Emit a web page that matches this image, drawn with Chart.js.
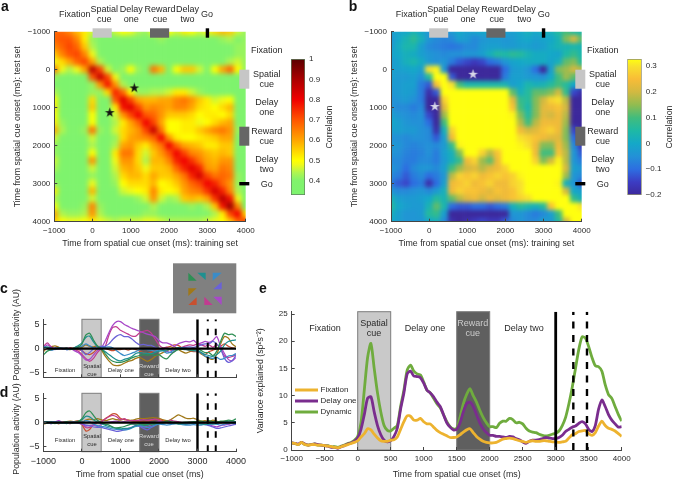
<!DOCTYPE html>
<html>
<head>
<meta charset="utf-8">
<style>
  html, body { margin: 0; padding: 0; background: #fff; width: 673px; height: 479px; overflow: hidden; }
  canvas { position: absolute; left: 0; top: 0; }
</style>
<script src="https://cdn.jsdelivr.net/npm/chart.js@4/dist/chart.umd.min.js"></script>
</head>
<body>
<canvas id="heatA" width="673" height="479"></canvas>
<canvas id="barA" width="673" height="479"></canvas>
<canvas id="heatB" width="673" height="479"></canvas>
<canvas id="barB" width="673" height="479"></canvas>
<canvas id="lineC" width="673" height="479"></canvas>
<canvas id="lineD" width="673" height="479"></canvas>
<canvas id="lineE" width="673" height="479"></canvas>
<script>
// ================= DATA =================
const heatTimes = [-1000,-800,-600,-400,-200,0,200,400,600,800,1000,1200,1400,1600,1800,2000,2200,2400,2600,2800,3000,3200,3400,3600,3800,4000];
const axisTicks = [-1000,0,1000,2000,3000,4000];
const activityTicks = [-5,0,5];
const varianceTicks = [0,5,10,15,20,25];
const varianceTimeTicks = [-1000,-500,0,500,1000,1500,2000,2500,3000,3500,4000];
const corrTicksA = [0.4,0.5,0.6,0.7,0.8,0.9,1];
const corrTicksB = [-0.2,-0.1,0,0.1,0.2,0.3];

// correlation x100, rows = test set time, columns = training set time
const heatRowsA = [
  [68,68,64,58,52,46,42,40,46,50,48,44,42,50,56,50,46,52,50,46,48,54,58,56,46,42],
  [68,70,70,64,52,42,38,37,38,39,40,38,38,40,42,40,38,38,38,38,38,38,42,44,40,42],
  [64,68,72,68,56,44,38,36,36,36,36,36,36,36,36,36,36,36,36,36,36,36,36,38,42,42],
  [56,64,70,72,64,48,40,36,36,36,36,36,36,36,36,36,36,36,36,36,36,36,36,38,42,42],
  [48,54,60,68,72,60,44,38,36,36,38,38,38,38,40,38,38,38,38,38,38,38,40,44,46,42],
  [66,48,44,48,60,88,72,46,40,42,50,42,40,66,58,40,50,56,56,46,40,50,60,68,50,42],
  [42,38,36,36,40,70,86,72,48,38,38,36,36,38,38,36,36,38,38,36,36,36,38,40,38,36],
  [38,36,36,36,36,42,62,78,62,44,36,36,36,36,36,36,36,36,36,36,36,36,36,36,36,36],
  [44,38,36,36,38,42,42,54,76,68,50,42,42,44,44,46,52,52,46,42,40,38,40,40,36,36],
  [50,40,36,36,38,54,40,40,70,82,72,60,58,58,60,60,64,66,62,56,52,46,48,50,38,36],
  [52,40,36,36,38,56,40,38,52,78,82,72,62,64,62,60,64,64,60,54,52,50,54,58,40,36],
  [50,40,38,38,38,50,38,38,46,62,72,80,70,68,62,56,56,56,54,50,52,52,50,54,40,36],
  [52,42,38,38,40,50,38,38,44,52,60,68,80,72,60,50,50,52,52,48,50,54,58,60,40,36],
  [60,44,40,40,42,66,42,38,46,54,58,62,72,86,66,50,50,52,52,56,60,64,66,62,42,36],
  [46,40,38,38,40,46,40,38,42,54,60,62,64,68,80,62,52,50,50,52,54,56,60,60,40,36],
  [42,38,36,36,38,44,38,38,44,60,62,56,52,60,66,80,68,60,58,56,52,52,56,56,38,36],
  [42,38,36,36,38,50,38,36,52,66,66,54,46,56,62,70,80,72,64,62,58,56,58,56,38,36],
  [46,38,36,36,38,62,40,36,48,62,62,54,44,58,58,64,76,80,74,66,60,58,62,62,40,36],
  [44,38,36,36,38,46,38,36,46,58,60,56,48,56,56,58,68,76,82,76,62,60,66,64,40,36],
  [40,36,36,36,36,42,38,36,44,54,58,58,54,60,56,56,60,66,76,84,72,66,68,66,42,36],
  [42,36,36,36,38,48,38,36,42,50,54,54,54,58,50,52,56,62,68,72,80,76,68,62,42,36],
  [52,38,36,36,40,58,40,36,38,46,48,50,52,64,52,50,52,60,64,66,74,84,76,64,44,36],
  [44,38,36,36,40,46,38,36,36,38,40,42,46,62,46,42,44,56,58,56,60,74,88,78,48,38],
  [50,40,38,38,42,64,42,38,36,36,36,38,40,44,38,36,38,40,42,40,44,56,78,92,64,40],
  [60,44,42,42,44,62,44,40,38,38,38,40,42,42,40,38,38,38,38,38,40,44,52,72,80,54],
  [56,50,48,48,50,52,48,46,44,46,46,46,48,48,46,44,44,44,44,44,46,48,50,56,68,72]
];

const heatRowsB = [
  [-2,-1,0,3,0,-4,-4,-6,-3,0,-2,-1,0,-1,0,-2,-2,0,2,0,2,2,6,10,6,4],
  [-4,0,3,7,2,-4,-6,-7,-6,-2,-3,-6,-4,-3,-3,-4,-3,-1,0,-2,-1,0,3,14,20,12],
  [-3,1,4,4,-2,-6,-7,-8,-9,-8,-6,-6,-3,-2,-2,-3,-3,-2,-2,-3,-2,1,3,3,4,3],
  [-1,0,2,1,-2,-4,-5,-6,-5,-5,-4,-4,-2,2,6,5,7,6,3,1,1,0,-1,5,8,4],
  [-3,-1,2,4,1,-3,-5,-4,-8,-12,-14,-16,-14,-10,-8,-4,-1,0,1,1,1,-1,2,12,14,6],
  [-2,-2,-1,0,-2,30,32,-4,-24,-26,-26,-26,-26,-26,-24,-10,-3,-2,-4,-10,-20,-2,14,16,20,18],
  [-2,-3,-3,-2,-5,6,40,40,-12,-24,-24,-24,-24,-24,-20,-8,-2,-2,-3,-4,-5,0,10,16,12,4],
  [-3,-3,-2,-2,-8,-12,26,40,30,10,4,4,4,4,4,3,-2,0,4,2,3,6,10,6,0,-4],
  [-4,-3,-2,-3,-8,-18,-12,36,40,40,40,38,36,36,38,34,12,2,6,12,12,14,20,8,-14,-18],
  [-5,-4,-3,-5,-8,-24,-26,28,40,40,40,40,40,40,40,40,22,8,6,14,20,28,30,18,-22,-24],
  [-4,-6,-6,-8,-6,-22,-26,22,40,40,40,40,40,40,40,40,26,10,4,14,22,24,26,20,-24,-26],
  [-2,-4,-5,-6,-5,-14,-24,16,40,40,40,40,40,40,40,40,32,14,6,14,22,20,24,18,-24,-26],
  [0,-2,-4,-5,-5,-10,-22,10,38,40,40,40,40,40,40,40,34,18,10,18,24,24,24,16,-20,-24],
  [-2,-2,-3,-3,-5,-6,-18,2,28,40,40,40,40,40,40,40,36,24,20,22,26,28,24,14,-14,-22],
  [-5,-5,-6,-5,-5,-6,-12,-2,24,40,40,40,40,40,40,40,36,30,28,26,24,22,22,14,-10,-18],
  [-3,-4,-6,-7,-6,-5,-6,-3,8,32,40,40,40,40,40,40,36,32,30,24,14,14,24,16,-6,-16],
  [-4,-5,-7,-8,-7,-5,-8,-2,2,14,34,36,28,18,26,36,40,40,34,24,10,10,26,18,-4,-12],
  [-6,-6,-8,-8,-6,-6,-8,-3,2,8,24,28,16,12,24,38,40,40,40,28,14,20,32,18,-4,-8],
  [-4,-6,-10,-6,-4,-4,-6,-2,10,16,20,22,18,22,24,28,36,40,40,40,40,40,38,20,-2,-4],
  [-6,-8,-12,-8,-6,-10,-8,-4,18,28,26,28,24,26,28,26,28,32,36,40,40,40,34,16,-4,-6],
  [-8,-12,-14,-10,-8,-18,-10,-2,24,26,28,24,26,28,24,24,28,30,36,40,40,40,32,2,-4,-12],
  [-4,-6,-6,-5,-4,-6,-3,2,24,28,26,26,24,22,26,24,26,30,34,40,40,40,40,20,0,-2],
  [3,-2,-3,-3,-2,0,6,3,12,18,22,24,20,24,22,24,26,28,30,36,40,40,40,36,8,2],
  [6,0,-2,-3,-3,3,12,4,-10,-12,-12,-10,-10,-12,-10,-8,2,6,4,2,6,26,40,40,38,30],
  [2,-2,-4,-4,-3,6,8,-2,-26,-28,-28,-26,-22,-28,-28,-20,-4,-4,-6,-8,-6,-2,10,36,40,40],
  [0,-2,-4,-4,-4,0,2,-6,-18,-20,-18,-16,-14,-16,-16,-12,-6,-4,-6,-6,-2,-4,6,20,40,40]
];

const starsA = [{ x: 1090, y: 480 }, { x: 450, y: 1130 }];
const starsB = [{ x: 1150, y: 120 }, { x: 150, y: 970 }];

// panel c and d sampled every 100 ms, panel e every 50 ms
const timesCD = [
  -1000,-900,-800,-700,-600,-500,-400,-300,-200,-100,
  0,100,200,300,400,500,600,700,800,900,
  1000,1100,1200,1300,1400,1500,1600,1700,1800,1900,
  2000,2100,2200,2300,2400,2500,2600,2700,2800,2900,
  3000,3100,3200,3300,3400,3500,3600,3700,3800,3900,4000
];
const c_green = [
  -1.3,-0.5,-0.2,0,0.1,0,0.1,0,-0.1,0.3,
  1,2.8,3.2,1.8,0.6,0,-1,-2,-2.6,-2.8,
  -2.8,-2.6,-2.3,-1.9,-1.6,-1.4,-1.2,-1.3,-1.2,-1.4,
  -1.2,-1.8,-2.1,-1.3,-0.6,-0.2,-0.1,0,-0.2,-0.2,
  0,-0.4,-0.8,-0.8,-1.4,-0.5,1.5,3.2,2.9,3,2.5];
const c_teal = [
  0.2,0.4,0.1,-0.1,0.2,0,0.1,-0.1,0.2,0.6,
  1.2,2.3,2.6,1.4,0.4,-0.1,-0.6,-1.2,-1.8,-2.3,
  -2.5,-2.2,-2,-1.6,-1,-0.8,-0.9,-1,-1,-0.8,
  -0.5,-0.4,-0.3,-0.1,0,0.2,-0.1,-0.2,-0.3,-0.4,
  -0.3,-0.8,-1.2,-1.4,-1.6,-1.2,-0.5,0.8,1.5,1.7,1.8];
const c_blue = [
  0.4,0.2,-0.3,-0.1,0,0.1,-0.2,0,-0.1,0.3,
  0.5,1,0.6,0.2,0,0.2,0.3,0.4,0.2,-0.4,
  -1,-1.4,-1.2,-0.9,-0.6,-0.2,0,-0.2,-0.3,-0.5,
  -0.3,-0.4,-0.9,-0.7,-0.2,0.1,0.2,0,-0.2,-0.4,
  -0.5,-0.9,-1.5,-1.8,-2,-1.8,-2.2,-2,-1.5,-1.4,-1];
const c_indigo = [
  0.6,0.1,-0.3,0.2,0,0.1,-0.2,-0.1,0,0.1,
  -0.4,-1.2,-0.8,0,0.4,0.5,0.5,1,1.9,2.6,
  2.9,2.5,2.5,2,1.3,0.8,0.9,0.7,0.7,0.3,
  0,-0.2,-0.5,-0.8,-0.6,0,0.2,0.3,0.4,0.3,
  0.5,0.8,1,1,1.5,1,0,-2,-2.8,-2.5,-1.3];
const c_violet = [
  0,0.8,0.3,-0.2,0.2,-0.1,0,0.1,-0.4,-0.8,
  -1.5,-2.3,-2.2,-1.3,-0.4,0.1,1.5,3.3,4.8,5.6,
  5.6,5,4.6,4.2,3.9,3.6,3.3,3,2.8,2.5,
  1.7,1.2,1.2,0.9,0.5,1,1.3,1.5,1.4,1.7,
  1,1.2,1.5,1.3,1.7,2.5,0.5,-1,-2.2,-2.5,-1.8];
const c_magenta = [
  0.4,1.2,0.4,0,-0.1,0,0.2,-0.1,-0.2,-0.5,
  -1.2,-2,-2.6,-2,-0.8,0,0.4,2.8,4.4,4.5,
  3.8,3.4,3,2.6,2.6,3.3,3.6,3.8,3.2,2,
  0.8,0.2,0.3,-0.3,-0.3,0,0.3,0.6,0.8,0.7,
  1,0.8,0.5,0.8,0.3,0.8,0,-1.5,-1.8,-1.6,-1.2];
const c_red = [
  -0.3,0.1,-0.2,0,0.2,0.1,-0.1,0.2,0,-0.2,
  -0.4,-1,-1.2,-0.8,0,0.4,0.1,-0.2,-0.4,-0.2,
  -0.2,0,-0.3,0,-0.2,-0.5,-0.8,-1,-0.7,-0.4,
  -0.1,0,0.3,0.5,0.8,0.7,0.2,-0.1,-0.4,-0.6,
  -0.6,-0.9,-1.2,-0.6,-0.3,0,0.5,1,0.5,0.2,0];
const c_olive = [
  -0.6,0.2,0.4,0.6,0.3,0.1,0,-0.2,0.2,0.4,
  0.3,0.8,0.5,0.4,0.6,-0.2,-1.5,-2.5,-3.3,-3.5,
  -3.4,-3,-2.6,-2.4,-2,-1.8,-2.2,-2.6,-2.2,-1.6,
  -1.2,-0.8,-0.5,0,0.4,-0.1,-0.6,-0.9,-0.6,-0.4,
  -0.4,-1.1,-1.6,-2,-2.2,-1.2,1,2.5,2.2,1,0.4];

const d_green = [
  0,-0.1,0.1,-0.2,0.1,0,0.2,-0.1,0,0.2,
  0.8,2,2.4,1.5,0.5,0,-0.3,-0.5,-0.9,-1.1,
  -1,-0.8,-0.5,-0.3,-0.3,-0.2,-0.4,-0.5,-0.3,-0.2,
  0,0.1,0.3,0.2,0.1,-0.1,0,0.1,0.1,0.2,
  0.2,0.3,0.1,0.4,0.2,0.1,0.3,0.3,0.5,0.4,0.8];
const d_teal = [
  0.1,0.2,-0.1,0,0.1,0,-0.2,0.1,0.1,0.2,
  0.6,1.3,1.2,0.6,0.1,-0.2,-0.5,-0.8,-1,-1.2,
  -1.3,-1.2,-1.2,-1,-0.6,-0.4,-0.5,-0.4,-0.3,-0.2,
  -0.2,-0.1,0,-0.1,-0.2,-0.3,-0.2,-0.3,-0.2,-0.1,
  -0.2,-0.3,-0.4,-0.2,-0.3,-0.2,0,0.2,0.3,0.3,0.2];
const d_blue = [
  -0.1,0,0.2,0.1,-0.1,0,0.1,0,-0.1,0.1,
  0.1,0.4,0.2,-0.3,-0.6,-0.8,-0.9,-1.1,-1.3,-1.4,
  -1.4,-1.5,-1.4,-1.1,-0.8,-0.6,-0.8,-1,-0.8,-0.5,
  -0.3,-0.4,-0.5,-0.4,-0.2,-0.2,-0.4,-0.5,-0.5,-0.4,
  -0.5,-0.5,-0.3,-0.4,-0.2,-0.3,-0.5,-0.3,-0.2,-0.1,-0.2];
const d_indigo = [
  0.1,-0.1,-0.2,0.2,0.1,-0.1,0,0.1,0,-0.1,
  -0.2,-0.5,-0.6,-0.9,-1,-1,-1.2,-1.4,-1.6,-1.8,
  -1.7,-1.5,-1.2,-0.9,-0.6,-0.8,-1.2,-1.5,-1,-0.6,
  -0.2,-0.1,0,-0.2,-0.2,-0.1,-0.1,-0.3,-0.2,-0.2,
  -0.1,-0.2,-0.4,-0.6,-0.9,-1.2,-1.1,-0.9,-0.7,-0.5,-0.3];
const d_violet = [
  0.2,0,-0.2,0.1,0.4,0,-0.1,0,0.1,-0.1,
  -0.3,-0.7,-0.6,-0.5,-0.8,-0.4,0,0.1,0.2,0.3,
  0.1,0.2,0.1,-0.2,-0.4,-0.7,-0.9,-0.7,-0.4,0,
  0.2,0.1,0,-0.1,0,0,-0.2,-0.3,-0.2,-0.1,
  -0.1,0,0,-0.4,-0.7,-0.9,-0.6,-0.5,-0.3,-0.2,-0.1];
const d_magenta = [
  -0.2,0.1,0.2,-0.1,0,0.1,0.1,-0.2,0.1,0.3,
  -0.1,-1,-1,-0.5,0.1,0.2,0.7,1.2,1.5,1.2,
  0.6,0.8,0.4,0.4,0.4,0.5,0.6,0.5,0.6,0.7,
  0.5,0.2,0.2,0.5,0.3,0.2,0,0,0.1,0,
  -0.1,0,0.1,0,-0.2,0,-0.1,0,-0.3,-0.1,-0.3];
const d_red = [
  0.2,0.1,-0.1,0,-0.2,0.1,0,0.2,0.2,0,
  -0.4,-1.7,-1.4,-0.4,0,0.2,0.8,1.3,1.8,1.7,
  0.9,0.6,0.5,0.3,0.2,0.2,0.3,0.3,0.5,0.6,
  0.6,0.4,0.1,0,-0.1,-0.2,-0.3,-0.1,0.1,0,
  0,-0.2,-0.1,0.1,0,-0.1,0.2,0,-0.2,-0.1,-0.4];
const d_olive = [
  -0.3,-0.1,0.1,0.2,-0.2,0,0.2,0.3,0.2,0.4,
  0.1,0.5,0.7,0.6,0.8,0.6,0.4,0.6,0.8,0.6,
  0.5,0.7,0.5,0.5,0.7,0.9,0.8,0.9,1,1,
  0.9,0.6,0.4,0.6,1.1,1.6,1.3,0.9,0.8,0.9,
  0.6,0.3,0.4,0.2,0.5,0.3,0.1,0.3,0.1,-0.1,0];

const timesE = [
  -1000,-950,-900,-850,-800,-750,-700,-650,-600,-550,-500,-450,-400,-350,-300,-250,-200,-150,-100,-50,
  0,50,100,150,200,250,300,350,400,450,500,550,600,650,700,750,800,850,900,950,
  1000,1050,1100,1150,1200,1250,1300,1350,1400,1450,1500,1550,1600,1650,1700,1750,1800,1850,1900,1950,
  2000,2050,2100,2150,2200,2250,2300,2350,2400,2450,2500,2550,2600,2650,2700,2750,2800,2850,2900,2950,
  3000,3050,3100,3150,3200,3250,3300,3350,3400,3450,3500,3550,3600,3650,3700,3750,3800,3850,3900,3950,4000
];
const fixationVar = [
  1.3,1.2,1,1.4,1,0.9,1,1,0.9,0.9,0.8,0.7,0.6,0.5,0.4,0.6,0.8,1,1.2,1.4,
  1.7,2.4,3,3.9,3.7,2.9,2.2,1.7,1.6,1.6,1.8,1.9,2.4,3.8,5.2,6.3,6.2,5.5,5.5,5.8,
  5.2,4.8,4.8,4.2,3.6,3.2,2.9,2.6,2.3,2.3,2.4,2.8,3.3,3.7,3.9,3.2,2.5,2,1.6,1.4,
  1.3,1.3,1.4,1.7,2,2.1,2.2,2.1,1.9,1.7,1.6,1.4,1.6,1.7,1.6,1.6,1.7,1.7,1.6,1.5,
  1.5,1.4,1.5,1.6,2.2,2.8,3,3.4,3.5,3.6,3,2.7,3.2,4.4,5.3,4.5,4,3.8,3.5,3,2.5
];
const delayOneVar = [
  1.3,1.2,1.1,1.4,1.1,0.9,1,1.1,1,0.9,0.8,0.7,0.5,0.5,0.3,0.6,0.8,1.1,1.3,1.6,
  2.2,3.8,6.5,9.5,9.8,7,4.5,2.8,1.8,1.5,1.7,2.5,4,7.5,10.5,14,14.5,13.6,13.5,13.3,
  12.3,11,10.5,9.8,8.8,8,6.5,5,4.2,3.7,3.8,5,7,8.5,8.8,8,6.5,5,3.9,3.2,
  2.7,2.7,2.5,2.5,2.4,2.3,2.5,2.4,2.1,1.9,1.5,1.2,1.6,1.8,1.8,1.9,2.1,2.3,2.2,2.1,
  2.1,2.3,2.7,3.4,3.8,4.2,4.4,4.9,5.2,4.8,3.8,3.4,4.5,7.5,9.2,8,6.5,5.5,4.8,4.2,4.3
];
const dynamicVar = [
  1.3,1.2,1,1.4,1,0.9,1,1.1,0.9,0.9,0.8,0.8,0.6,0.6,0.5,0.7,0.9,1.2,1.4,1.8,
  2.5,5,11,17,19.6,15,10.5,7,4.5,3.6,3.5,4,4.5,8,11,14.7,15.6,14.5,14,13.8,
  12.5,11,10.5,9.5,8.5,7.8,6.5,5.2,4.3,3.9,4,6,8.5,10.2,11.3,10,8.8,7.3,6,5,
  4.3,4.3,4.1,4.9,5.3,5.3,5.8,5.6,5,5.1,4.8,4,3.5,3.3,3.2,2.9,2.7,2.6,2.7,2.9,
  3.1,3.5,4.5,6,8.5,11.5,15,18.5,20.8,20.6,19,17,15.5,15.3,14.5,12,10.2,9.5,8,6.5,5.3
];

const spatialCue = [0, 500];
const rewardCue = [1500, 2000];
const goTime = 3000;
const dashTimes = [3267, 3474];

const seriesColors = ["#2f8f55", "#1f9090", "#3a8cc8", "#6a62d8", "#a848c8", "#c03c90", "#c85030", "#a07818"];

// ================= COLOURS =================
const stopsA = [[0.33,[125,243,110]],[0.4,[128,243,108]],[0.44,[175,245,80]],[0.48,[240,250,25]],[0.5,[255,255,0]],[0.6,[255,165,0]],[0.7,[255,85,0]],[0.8,[240,0,0]],[0.9,[170,0,0]],[1,[90,0,0]]];
const stopsB = [[-0.2,[60,40,155]],[-0.15,[60,60,195]],[-0.1,[45,110,225]],[-0.05,[35,145,215]],[0,[20,168,200]],[0.05,[30,185,165]],[0.1,[65,188,125]],[0.15,[145,188,80]],[0.2,[210,185,65]],[0.25,[248,188,55]],[0.3,[248,225,45]],[0.33,[255,255,15]]];

function mapColor(stops, v) {
  if (v <= stops[0][0]) return `rgb(${stops[0][1]})`;
  for (let i = 1; i < stops.length; i++) {
    if (v <= stops[i][0]) {
      const t = (v - stops[i - 1][0]) / (stops[i][0] - stops[i - 1][0]);
      const c = stops[i][1].map((n, k) => Math.round(stops[i - 1][1][k] + (n - stops[i - 1][1][k]) * t));
      return `rgb(${c})`;
    }
  }
  return `rgb(${stops[stops.length - 1][1]})`;
}

// ================= HELPERS =================
const W = 673, H = 479;
const titleFont = { size: 8.8 };
const tickFont = { size: 8 };
Chart.defaults.font.family = '"Liberation Sans", Arial, sans-serif';
Chart.defaults.font.size = 9;
Chart.defaults.color = "#2a2a2a";

function label(ctx, str, x, y, opts = {}) {
  ctx.save();
  ctx.font = `${opts.bold ? "bold " : ""}${opts.size || 9}px "Liberation Sans", Arial, sans-serif`;
  ctx.fillStyle = opts.color || "#2a2a2a";
  ctx.textAlign = opts.align || "center";
  ctx.textBaseline = "middle";
  ctx.translate(x, y);
  if (opts.rotate) ctx.rotate(opts.rotate);
  ctx.fillText(str, 0, 0);
  ctx.restore();
}

function minus(v) {
  return String(v).replace("-", "\u2212");
}

function setTicks(list) {
  return s => { s.ticks = list.map(value => ({ value })); };
}

function padFor(p) {
  return { left: p.x0 - p.axisW, right: W - p.x1, top: p.y0, bottom: H - p.y1 - p.axisH };
}

function grid2points(rows) {
  const pts = [];
  rows.forEach((row, r) => row.forEach((v, c) => pts.push({ x: heatTimes[c], y: heatTimes[r], v: v / 100 })));
  return pts;
}

function starImage(color) {
  const c = document.createElement("canvas");
  c.width = 11; c.height = 11;
  const g = c.getContext("2d");
  g.fillStyle = color;
  g.beginPath();
  for (let i = 0; i < 10; i++) {
    const r = i % 2 ? 2 : 5.2, a = -Math.PI / 2 + i * Math.PI / 5;
    g.lineTo(5.5 + r * Math.cos(a), 5.5 + r * Math.sin(a));
  }
  g.closePath();
  g.fill();
  return c;
}

// z 1 on grid, border and ticks so the axes survive the blur step
const tickStyle = { drawOnChartArea: false, drawTicks: true, tickLength: -3, color: "#444", lineWidth: 1, z: 1 };
const axisLine = { color: "#444", z: 1 };

// ================= HEATMAPS a, b =================
// blur the square cells once the library has drawn them, then keep only the plot area
function blurCells(sigma) {
  return {
    id: "blurCells",
    afterDatasetDraw(chart, args) {
      if (args.index !== 0) return;
      const a = chart.chartArea, ctx = chart.ctx;
      const copy = document.createElement("canvas");
      copy.width = W; copy.height = H;
      copy.getContext("2d").drawImage(chart.canvas, 0, 0);
      ctx.save();
      ctx.clearRect(0, 0, W, H);
      ctx.beginPath();
      ctx.rect(a.left, a.top, a.right - a.left, a.bottom - a.top);
      ctx.clip();
      ctx.filter = `blur(${sigma}px)`;
      ctx.drawImage(copy, 0, 0);
      ctx.restore();
    }
  };
}

const taskMarks = {
  id: "taskMarks",
  afterDraw(chart) {
    const ctx = chart.ctx, a = chart.chartArea, x = chart.scales.x, y = chart.scales.y;
    const topY = a.top - 3.4, topH = 9.4, rx = a.right - 6.4, rw = 10;
    ctx.fillStyle = "#c6c6c6";
    ctx.fillRect(x.getPixelForValue(spatialCue[0]), topY, x.getPixelForValue(spatialCue[1]) - x.getPixelForValue(spatialCue[0]), topH);
    ctx.fillRect(rx, y.getPixelForValue(spatialCue[0]), rw, y.getPixelForValue(spatialCue[1]) - y.getPixelForValue(spatialCue[0]));
    ctx.fillStyle = "#666";
    ctx.fillRect(x.getPixelForValue(rewardCue[0]), topY, x.getPixelForValue(rewardCue[1]) - x.getPixelForValue(rewardCue[0]), topH);
    ctx.fillRect(rx, y.getPixelForValue(rewardCue[0]), rw, y.getPixelForValue(rewardCue[1]) - y.getPixelForValue(rewardCue[0]));
    ctx.fillStyle = "#000";
    ctx.fillRect(x.getPixelForValue(goTime) - 1.7, topY, 3.4, topH);
    ctx.fillRect(rx, y.getPixelForValue(goTime) - 1.7, rw, 3.4);

    const l = a.left, rtx = a.right + 21;
    label(ctx, "Fixation", l + 20.5, 15);
    label(ctx, "Spatial", l + 50, 10); label(ctx, "cue", l + 50, 20);
    label(ctx, "Delay", l + 77, 10); label(ctx, "one", l + 77, 20);
    label(ctx, "Reward", l + 105.7, 10); label(ctx, "cue", l + 105.7, 20);
    label(ctx, "Delay", l + 133.3, 10); label(ctx, "two", l + 133.3, 20);
    label(ctx, "Go", l + 152.7, 15);
    label(ctx, "Fixation", rtx, 50.7);
    label(ctx, "Spatial", rtx, 74.5); label(ctx, "cue", rtx, 84.5);
    label(ctx, "Delay", rtx, 103); label(ctx, "one", rtx, 113);
    label(ctx, "Reward", rtx, 131.5); label(ctx, "cue", rtx, 141.5);
    label(ctx, "Delay", rtx, 160); label(ctx, "two", rtx, 170);
    label(ctx, "Go", rtx, 184.5);
  }
};

function heatChart(id, plot, rows, stops, stars, starColor, letter, letterX, sigma) {
  new Chart(document.getElementById(id), {
    type: "scatter",
    data: {
      datasets: [
        {
          data: grid2points(rows),
          order: 1,
          clip: false,
          pointStyle: "rect",
          pointRadius: 5.8,
          pointBorderWidth: 0,
          pointBackgroundColor: c => mapColor(stops, c.raw ? c.raw.v : 0)
        },
        {
          data: stars,
          order: 0,
          pointStyle: starImage(starColor),
          pointRadius: 5
        }
      ]
    },
    options: {
      responsive: false,
      animation: false,
      events: [],
      layout: { padding: padFor(plot) },
      plugins: { legend: { display: false }, tooltip: { enabled: false } },
      scales: {
        x: {
          type: "linear", min: -1000, max: 4000,
          afterBuildTicks: setTicks(axisTicks),
          afterFit: s => { s.height = plot.axisH; },
          grid: tickStyle, border: axisLine,
          ticks: { callback: minus, maxRotation: 0, padding: 7, z: 1, font: tickFont },
          title: { display: true, text: "Time from spatial cue onset (ms): training set", padding: 0, font: titleFont }
        },
        y: {
          type: "linear", min: -1000, max: 4000, reverse: true,
          afterBuildTicks: setTicks(axisTicks),
          afterFit: s => { s.width = plot.axisW; },
          grid: tickStyle, border: axisLine,
          ticks: { callback: minus, padding: 7, z: 1, font: tickFont },
          title: { display: true, text: "Time from spatial cue onset (ms): test set", padding: 0, font: titleFont }
        }
      }
    },
    plugins: [blurCells(sigma), taskMarks, {
      id: "panelLetter",
      afterDraw(chart) { label(chart.ctx, letter, letterX, 7, { bold: true, size: 14, color: "#111" }); }
    }]
  });
}

function colorBar(id, plot, range, stops, ticks, frame) {
  new Chart(document.getElementById(id), {
    type: "bar",
    data: {
      labels: ["Correlation"],
      datasets: [{
        data: [range],
        barPercentage: 1,
        categoryPercentage: 1,
        borderWidth: 1,
        borderColor: frame,
        borderSkipped: false,
        backgroundColor: c => {
          const area = c.chart.chartArea;
          if (!area) return "#888";
          const g = c.chart.ctx.createLinearGradient(0, area.bottom, 0, area.top);
          stops.forEach(s => {
            const t = (s[0] - range[0]) / (range[1] - range[0]);
            g.addColorStop(Math.min(1, Math.max(0, t)), `rgb(${s[1]})`);
          });
          return g;
        }
      }]
    },
    options: {
      responsive: false,
      animation: false,
      events: [],
      layout: { padding: { left: plot.x0, right: W - plot.x1 - 26, top: plot.y0, bottom: H - plot.y1 } },
      plugins: { legend: { display: false }, tooltip: { enabled: false } },
      scales: {
        x: { display: false },
        y: {
          position: "right", min: range[0], max: range[1],
          afterBuildTicks: setTicks(ticks),
          afterFit: s => { s.width = 26; },
          grid: { display: false, drawTicks: false }, border: { display: false },
          ticks: { callback: minus, padding: 4, font: tickFont }
        }
      }
    },
    plugins: [{
      id: "barTitle",
      afterDraw(chart) { label(chart.ctx, "Correlation", plot.titleX, 127, { rotate: -Math.PI / 2, size: 8.8 }); }
    }]
  });
}

const plotA = { x0: 54.3, x1: 245.7, y0: 31.7, y1: 221.7, axisW: 42, axisH: 26.7 };
const plotB = { x0: 391, x1: 581.7, y0: 31.7, y1: 221.7, axisW: 42, axisH: 26.7 };
heatChart("heatA", plotA, heatRowsA, stopsA, starsA, "#111", "a", 5, 2.8);
heatChart("heatB", plotB, heatRowsB, stopsB, starsB, "#d8d8e8", "b", 353, 2.2);
colorBar("barA", { x0: 291, x1: 305, y0: 59, y1: 195, titleX: 330 }, [0.33, 1], stopsA, corrTicksA, "#5f7f5f");
colorBar("barB", { x0: 627.3, x1: 641.7, y0: 59, y1: 195, titleX: 670 }, [-0.2, 0.328], stopsB, corrTicksB, "#8f8f6f");

// ================= LINE PANELS c, d, e =================
function cueBoxes(chart) {
  const ctx = chart.ctx, a = chart.chartArea, x = chart.scales.x;
  const box = (span, fill) => {
    const l = x.getPixelForValue(span[0]), r = x.getPixelForValue(span[1]);
    ctx.fillStyle = fill;
    ctx.fillRect(l, a.top, r - l, a.bottom - a.top);
    ctx.strokeStyle = "#7d7d7d";
    ctx.lineWidth = 1;
    ctx.strokeRect(l, a.top, r - l, a.bottom - a.top);
  };
  box(spatialCue, "#c9c9c9");
  box(rewardCue, "#5f5f5f");
}

function markerSets(yMin, yMax, width, dash) {
  const sets = [{
    data: [{ x: goTime, y: yMin }, { x: goTime, y: yMax }],
    borderColor: "#000", borderWidth: width + 0.4, pointRadius: 0
  }];
  dashTimes.forEach(t => sets.push({
    data: [{ x: t, y: yMin }, { x: t, y: yMax }],
    borderColor: "#000", borderWidth: width, borderDash: dash, pointRadius: 0
  }));
  return sets;
}

function lineSet(times, values, color, width) {
  return {
    data: values.map((v, i) => ({ x: times[i], y: v })),
    borderColor: color, borderWidth: width, pointRadius: 0, tension: 0.25, fill: false
  };
}

function activityChart(id, plot, series, showX, phaseY, letter, letterY, titleY) {
  const yMin = plot.yMin, yMax = plot.yMax;
  const zero = { data: [{ x: -1000, y: 0 }, { x: 4000, y: 0 }], borderColor: "#000", borderWidth: 2.2, pointRadius: 0 };
  new Chart(document.getElementById(id), {
    type: "line",
    data: {
      datasets: [...markerSets(yMin, yMax, 2, [6.5, 7.5]), zero,
        ...series.map((s, i) => lineSet(timesCD, s, seriesColors[i], 1.25))]
    },
    options: {
      responsive: false,
      animation: false,
      events: [],
      layout: { padding: padFor(plot) },
      plugins: { legend: { display: false }, tooltip: { enabled: false } },
      scales: {
        x: {
          type: "linear", min: -1000, max: 4000,
          afterBuildTicks: setTicks(axisTicks),
          afterFit: s => { s.height = plot.axisH; },
          grid: tickStyle, border: axisLine,
          ticks: { display: showX, callback: minus, maxRotation: 0, padding: 7 },
          title: { display: showX, text: "Time from spatial cue onset (ms)", padding: 0, font: titleFont }
        },
        y: {
          type: "linear", min: yMin, max: yMax,
          afterBuildTicks: setTicks(activityTicks),
          afterFit: s => { s.width = plot.axisW; },
          grid: tickStyle, border: axisLine,
          ticks: { callback: minus, padding: 7 }
        }
      }
    },
    plugins: [{
      id: "phases",
      beforeDatasetsDraw(chart) {
        cueBoxes(chart);
        const ctx = chart.ctx, s = 5.8;
        label(ctx, "Fixation", 65, phaseY, { size: s });
        label(ctx, "Spatial", 92, phaseY - 3.5, { size: s }); label(ctx, "cue", 92, phaseY + 4, { size: s });
        label(ctx, "Delay one", 121, phaseY, { size: s });
        label(ctx, "Reward", 149, phaseY - 3.5, { size: s, color: "#ddd" }); label(ctx, "cue", 149, phaseY + 4, { size: s, color: "#ddd" });
        label(ctx, "Delay two", 178, phaseY, { size: s });
      },
      afterDraw(chart) {
        label(chart.ctx, letter, 4, letterY, { bold: true, size: 14, color: "#111" });
        label(chart.ctx, "Population activity (AU)", 17, titleY, { rotate: -Math.PI / 2, size: 8.8 });
      }
    }]
  });
}

const plotC = { x0: 43.4, x1: 236, y0: 319.3, y1: 377.3, axisW: 31, axisH: 10, yMin: -5.9, yMax: 6.07 };
const plotD = { x0: 43.4, x1: 236, y0: 393.3, y1: 451.7, axisW: 31, axisH: 27.7, yMin: -6, yMax: 6.05 };
activityChart("lineC", plotC, [c_green, c_teal, c_blue, c_indigo, c_violet, c_magenta, c_red, c_olive], false, 370, "c", 289, 334.7);
activityChart("lineD", plotD, [d_green, d_teal, d_blue, d_indigo, d_violet, d_magenta, d_red, d_olive], true, 440, "d", 393, 429);

const plotE = { x0: 291.7, x1: 621.7, y0: 311.7, y1: 450, axisW: 36.1, axisH: 29.4 };
const legendNames = ["Fixation", "Delay one", "Dynamic"];
const legendColors = ["#edb32f", "#7a2d8e", "#6fac3e"];

new Chart(document.getElementById("lineE"), {
  type: "line",
  data: {
    datasets: [...markerSets(0, 25.43, 2.4, [7, 6.5]),
      lineSet(timesE, fixationVar, legendColors[0], 2.8),
      lineSet(timesE, delayOneVar, legendColors[1], 2.8),
      lineSet(timesE, dynamicVar, legendColors[2], 2.8)]
  },
  options: {
    responsive: false,
    animation: false,
    events: [],
    layout: { padding: padFor(plotE) },
    plugins: { legend: { display: false }, tooltip: { enabled: false } },
    scales: {
      x: {
        type: "linear", min: -1000, max: 4000,
        afterBuildTicks: setTicks(varianceTimeTicks),
        afterFit: s => { s.height = plotE.axisH; },
        grid: tickStyle, border: axisLine,
        ticks: { callback: minus, maxRotation: 0, padding: 7, font: tickFont },
        title: { display: true, text: "Time from spatial cue onset (ms)", padding: 0, font: titleFont }
      },
      y: {
        type: "linear", min: 0, max: 25.43,
        afterBuildTicks: setTicks(varianceTicks),
        afterFit: s => { s.width = plotE.axisW; },
        grid: tickStyle, border: axisLine,
        ticks: { callback: minus, padding: 7, font: tickFont },
        title: { display: true, text: "Variance explained (sp\u00b2s\u207b\u00b2)", padding: 0, font: titleFont }
      }
    }
  },
  plugins: [{
    id: "phasesE",
    beforeDatasetsDraw(chart) {
      cueBoxes(chart);
      const ctx = chart.ctx;
      label(ctx, "Fixation", 325, 328.7);
      label(ctx, "Spatial", 374, 323.5); label(ctx, "cue", 374, 333.5);
      label(ctx, "Delay one", 425, 328.7);
      label(ctx, "Reward", 472.7, 323.5, { color: "#ccc" }); label(ctx, "cue", 472.7, 333.5, { color: "#ccc" });
      label(ctx, "Delay two", 524, 328.7);
    },
    afterDraw(chart) {
      const ctx = chart.ctx;
      legendNames.forEach((name, i) => {
        const ly = 390 + i * 11;
        ctx.strokeStyle = legendColors[i];
        ctx.lineWidth = 3;
        ctx.beginPath(); ctx.moveTo(295, ly); ctx.lineTo(318, ly); ctx.stroke();
        label(ctx, name, 320.5, ly, { align: "left", size: 8 });
      });
      label(ctx, "e", 263, 289, { bold: true, size: 14, color: "#111" });

      // stimulus inset
      ctx.fillStyle = "#808080";
      ctx.fillRect(173, 263.3, 63.3, 50);
      const tris = [
        ["#2f8f55", [188.3,272.7, 188.3,280.7, 196.7,280.7]],
        ["#1f9090", [197.3,272.7, 205.7,272.7, 205.7,280]],
        ["#3a8cc8", [212.7,272.7, 221.7,272.7, 212.7,280.7]],
        ["#6a62d8", [221.7,281.7, 221.7,289.3, 213.3,289.3]],
        ["#a848c8", [213.3,296.7, 221.7,296.7, 221.7,305]],
        ["#c03c90", [204.3,296.7, 204.3,305, 212.7,305]],
        ["#c85030", [196.7,297.3, 196.7,305, 188.3,305]],
        ["#a07818", [188.3,288.3, 196.7,288.3, 188.3,296]]
      ];
      tris.forEach(t => {
        const p = t[1];
        ctx.fillStyle = t[0];
        ctx.beginPath(); ctx.moveTo(p[0], p[1]); ctx.lineTo(p[2], p[3]); ctx.lineTo(p[4], p[5]); ctx.closePath(); ctx.fill();
      });
    }
  }]
});
</script>
</body>
</html>
